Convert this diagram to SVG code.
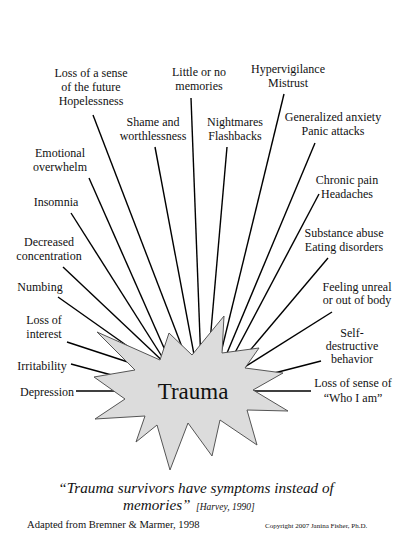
<svg xmlns="http://www.w3.org/2000/svg" width="400" height="533" viewBox="0 0 400 533">
<style>
text{font-family:"Liberation Serif","Times New Roman",serif;fill:#111}
.lbl{font-size:12px;text-anchor:middle}
.ln{stroke:#000;stroke-width:1.4;fill:none;stroke-linecap:butt}
.star{fill:#dcdcdc;stroke:#555;stroke-width:1}
.cap{font-size:15.2px;font-style:italic}
</style>
<rect width="400" height="533" fill="#fff"/>
<g id="connectors">
<line class="ln" x1="76" y1="391" x2="130" y2="391"/>
<line class="ln" x1="71" y1="364" x2="130" y2="380"/>
<line class="ln" x1="67" y1="342" x2="140" y2="366"/>
<line class="ln" x1="58" y1="297" x2="150" y2="362"/>
<line class="ln" x1="63" y1="267" x2="170" y2="368"/>
<line class="ln" x1="71" y1="213" x2="168" y2="366"/>
<line class="ln" x1="89" y1="178" x2="172" y2="366"/>
<line class="ln" x1="93" y1="115" x2="187" y2="360"/>
<line class="ln" x1="155" y1="147" x2="196" y2="365"/>
<line class="ln" x1="191" y1="98" x2="201" y2="365"/>
<line class="ln" x1="227" y1="147" x2="208" y2="365"/>
<line class="ln" x1="284" y1="94" x2="218" y2="365"/>
<line class="ln" x1="315" y1="143" x2="222" y2="365"/>
<line class="ln" x1="319" y1="194" x2="230" y2="362"/>
<line class="ln" x1="328" y1="258" x2="241" y2="361"/>
<line class="ln" x1="332" y1="312" x2="232" y2="375"/>
<line class="ln" x1="321" y1="361" x2="255" y2="378"/>
<line class="ln" x1="311" y1="391" x2="240" y2="391"/>
</g>
<g id="trauma">
<polygon class="star" points="224,316 222,353 259,348 245,368 283,373 253,390 288,411 247,410 257,445 220,420 212,456 188,423 170,470 157,425 136,442 145,416 95,419 125,399 94,377 135,370 97,332 160,360 169,333 192,355"/>
<text x="193" y="399" style="font-size:23px;text-anchor:middle">Trauma</text>
</g>
<g id="hopelessness"><text class="lbl" x="91" y="77">Loss of a sense</text><text class="lbl" x="91" y="91">of the future</text><text class="lbl" x="91" y="105">Hopelessness</text></g>
<g id="memories"><text class="lbl" x="199" y="76">Little or no</text><text class="lbl" x="199" y="90">memories</text></g>
<g id="hypervigilance"><text class="lbl" x="288" y="73">Hypervigilance</text><text class="lbl" x="288" y="87">Mistrust</text></g>
<g id="shame"><text class="lbl" x="153" y="126">Shame and</text><text class="lbl" x="153" y="140">worthlessness</text></g>
<g id="nightmares"><text class="lbl" x="235" y="126">Nightmares</text><text class="lbl" x="235" y="140">Flashbacks</text></g>
<g id="anxiety"><text class="lbl" x="333" y="121">Generalized anxiety</text><text class="lbl" x="333" y="135">Panic attacks</text></g>
<g id="emotional"><text class="lbl" x="60" y="157">Emotional</text><text class="lbl" x="60" y="171">overwhelm</text></g>
<g id="pain"><text class="lbl" x="347" y="184">Chronic pain</text><text class="lbl" x="347" y="198">Headaches</text></g>
<g id="insomnia"><text class="lbl" x="56" y="206">Insomnia</text></g>
<g id="substance"><text class="lbl" x="344" y="237">Substance abuse</text><text class="lbl" x="344" y="251">Eating disorders</text></g>
<g id="concentration"><text class="lbl" x="49" y="246">Decreased</text><text class="lbl" x="49" y="260">concentration</text></g>
<g id="numbing"><text class="lbl" x="40" y="291">Numbing</text></g>
<g id="unreal"><text class="lbl" x="357" y="291">Feeling unreal</text><text class="lbl" x="357" y="304">or out of body</text></g>
<g id="interest"><text class="lbl" x="44" y="324">Loss of</text><text class="lbl" x="44" y="338">interest</text></g>
<g id="selfdestructive"><text class="lbl" x="352" y="337">Self-</text><text class="lbl" x="352" y="350">destructive</text><text class="lbl" x="352" y="363">behavior</text></g>
<g id="irritability"><text class="lbl" x="42" y="370">Irritability</text></g>
<g id="depression"><text class="lbl" x="47" y="396">Depression</text></g>
<g id="whoiam"><text class="lbl" x="353" y="387">Loss of sense of</text><text class="lbl" x="353" y="402">“Who I am”</text></g>
<g id="caption">
<text class="cap" x="196" y="493" text-anchor="middle">“Trauma survivors have symptoms instead of</text>
<text class="cap" x="123" y="510">memories”</text>
<text x="196" y="510" style="font-size:9.5px;font-style:italic">[Harvey, 1990]</text>
<text x="27" y="528" style="font-size:10.6px">Adapted from Bremner &amp; Marmer, 1998</text>
<text x="265" y="528" style="font-size:7px">Copyright 2007 Janina Fisher, Ph.D.</text>
</g>
</svg>
